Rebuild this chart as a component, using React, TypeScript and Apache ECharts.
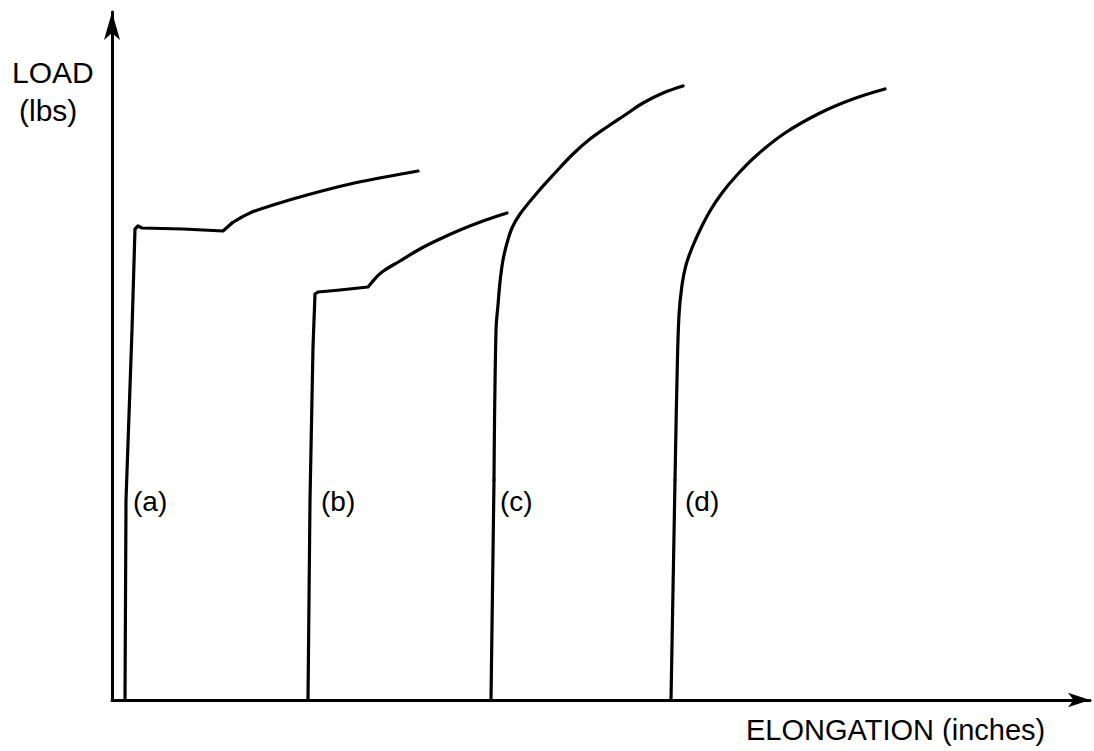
import React, { useEffect, useRef } from "react";
import * as echarts from "echarts";

// Elongation / load readings (arbitrary chart units) for each specimen curve
const curveA: [number, number][] = [
  [13, 0], [14, 200], [20, 370], [23, 471], [26, 474], [30, 472], [71, 471], [111, 469],
  [120, 477], [138, 487], [161, 495], [195, 505], [238, 516], [273, 523], [306, 529],
];
const curveB: [number, number][] = [
  [196, 0], [198, 200], [201, 353], [203, 406], [206, 408], [228, 410], [256, 413],
  [261, 419], [270, 428], [288, 439], [308, 451], [328, 461], [348, 470], [371, 479], [395, 487],
];
const curveC: [number, number][] = [
  [379, 0], [382, 220], [384, 370], [386, 395], [388, 418], [391, 440], [395, 457],
  [400, 472], [408, 486], [425, 507], [443, 527], [461, 546], [478, 561], [495, 573],
  [513, 585], [531, 597], [551, 607], [571, 614],
];
const curveD: [number, number][] = [
  [559, 0], [563, 220], [565, 320], [567, 385], [570, 415], [574, 435], [580, 452],
  [588, 470], [598, 489], [610, 507], [625, 525], [645, 545], [673, 567], [708, 587],
  [741, 601], [773, 611],
];

// index where the sharp yield part ends and the smooth hardening part begins
const breakIndex = [8, 7, 1, 1];

const curveNames = ["(a)", "(b)", "(c)", "(d)"];
const labelX = [21, 209, 388, 573];
const labelY = [199, 199, 199, 199];

const X_MAX = 978;
const Y_MAX = 688;

const FONT = "Liberation Sans";

export default function App() {
  const ref = useRef<HTMLDivElement>(null);
  useEffect(() => {
    if (!ref.current) return;
    const chart = echarts.init(ref.current, undefined, { renderer: "svg" });
    const lineStyle = { color: "#000", width: 3.2, cap: "round", join: "round" };
    const lineSeries: any[] = [];
    [curveA, curveB, curveC, curveD].forEach((d, i) => {
      const b = breakIndex[i];
      lineSeries.push({
        type: "line",
        name: curveNames[i] + "-yield",
        data: d.slice(0, b + 1),
        showSymbol: false,
        symbol: "none",
        smooth: false,
        lineStyle,
        silent: true,
      });
      lineSeries.push({
        type: "line",
        name: curveNames[i],
        data: d.slice(b),
        showSymbol: false,
        symbol: "none",
        smooth: 0.4,
        lineStyle,
        silent: true,
      });
    });
    chart.setOption({
      animation: false,
      backgroundColor: "#fff",
      grid: { left: 112, right: 4, top: 12, bottom: 51 },
      xAxis: {
        type: "value",
        min: 0,
        max: X_MAX,
        axisLine: {
          show: true,
          symbol: ["none", "arrow"],
          symbolSize: [11, 22],
          lineStyle: { color: "#000", width: 3 },
        },
        axisTick: { show: false },
        axisLabel: { show: false },
        splitLine: { show: false },
      },
      yAxis: {
        type: "value",
        min: 0,
        max: Y_MAX,
        axisLine: {
          show: true,
          symbol: ["none", "arrow"],
          symbolSize: [12, 28],
          lineStyle: { color: "#000", width: 3 },
        },
        axisTick: { show: false },
        axisLabel: { show: false },
        splitLine: { show: false },
      },
      series: [
        ...lineSeries,
        {
          type: "scatter",
          symbolSize: 0,
          silent: true,
          itemStyle: { opacity: 1 },
          data: curveNames.map((n, i) => ({ value: [labelX[i], labelY[i]], name: n })),
          label: {
            show: true,
            position: "right",
            distance: 0,
            formatter: (p: any) => p.name,
            color: "#000",
            opacity: 1,
            fontSize: 28,
            fontFamily: FONT,
          },
        },
      ],
      graphic: [
        {
          type: "text",
          left: 12,
          top: 57,
          style: { text: "LOAD", fill: "#000", font: `30px "${FONT}"` },
        },
        {
          type: "text",
          left: 19,
          top: 95,
          style: { text: "(lbs)", fill: "#000", font: `30px "${FONT}"` },
        },
        {
          type: "text",
          left: 746,
          top: 715,
          style: { text: "ELONGATION (inches)", fill: "#000", font: `29px "${FONT}"` },
        },
      ],
    });
    return () => chart.dispose();
  }, []);
  return (
    <div
      ref={ref}
      style={{ position: "absolute", left: 0, top: 0, width: 1094, height: 751, background: "#fff" }}
    />
  );
}
